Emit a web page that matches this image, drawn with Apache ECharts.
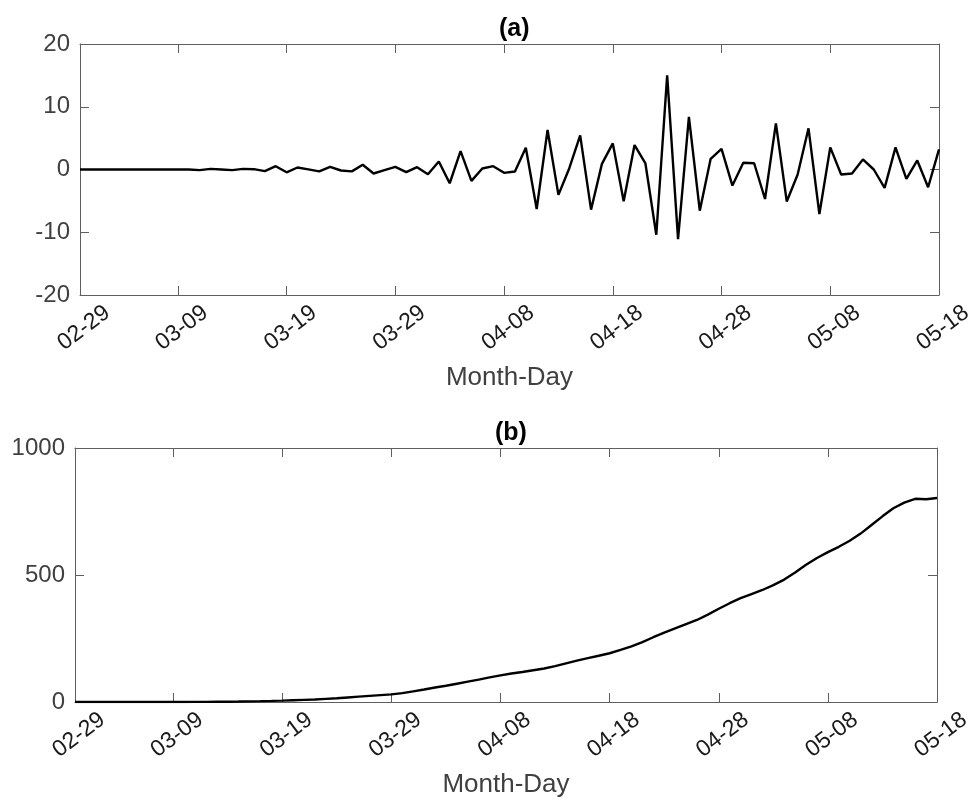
<!DOCTYPE html>
<html>
<head>
<meta charset="utf-8">
<script src="https://cdn.jsdelivr.net/npm/echarts@6/dist/echarts.min.js"></script>
<style>html,body{margin:0;padding:0;background:#fff}#c{width:980px;height:803px}</style>
</head>
<body>
<div id="c"></div>
<script>
// 80 days: 2020-02-29 .. 2020-05-18
var categories = ["02-29",
 "03-01","03-02","03-03","03-04","03-05","03-06","03-07","03-08","03-09","03-10",
 "03-11","03-12","03-13","03-14","03-15","03-16","03-17","03-18","03-19","03-20",
 "03-21","03-22","03-23","03-24","03-25","03-26","03-27","03-28","03-29","03-30","03-31",
 "04-01","04-02","04-03","04-04","04-05","04-06","04-07","04-08","04-09","04-10",
 "04-11","04-12","04-13","04-14","04-15","04-16","04-17","04-18","04-19","04-20",
 "04-21","04-22","04-23","04-24","04-25","04-26","04-27","04-28","04-29","04-30",
 "05-01","05-02","05-03","05-04","05-05","05-06","05-07","05-08","05-09","05-10",
 "05-11","05-12","05-13","05-14","05-15","05-16","05-17","05-18"];
var tickLabels = ["02-29","03-09","03-19","03-29","04-08","04-18","04-28","05-08","05-18"];

// panel (a)
var seriesA = [0,0,0,0,0,0,0,0,0,0,
 0,-0.1,0.1,0,-0.1,0.1,0.05,-0.27,0.53,-0.45,
 0.32,0.03,-0.3,0.43,-0.16,-0.3,0.75,-0.64,-0.1,0.43,
 -0.43,0.37,-0.75,1.28,-2.19,2.93,-1.81,0.16,0.53,-0.53,
 -0.32,3.47,-6.3,6.3,-4.05,0.2,5.44,-6.4,0.9,4.16,
 -5.07,3.89,0.96,-10.4,15.0,-11.1,8.37,-6.56,1.7,3.3,
 -2.56,1.07,1.0,-4.7,7.36,-5.1,-0.8,6.56,-7.1,3.52,
 -0.8,-0.64,1.6,0,-2.93,3.52,-1.5,1.44,-2.83,3.2];

// panel (b)
var seriesB = [0,0,0,0,0,0,0,0,0,0,
 0,0.3,0.5,0.8,1.2,1.8,2.5,3.3,4.3,5.5,
 7,8.5,10,12.5,15,18,21,24,27,30,
 35,42,49,57,64,72,80,88,97,105,
 112,118,125,132,141,152,163,173,182,192,
 205,219,236,255,273,290,307,323,344,367,
 389,409,425,441,460,482,510,540,567,590,
 611,635,663,697,731,763,785,800,798,803];

var FONT = '"Liberation Sans", Arial, Helvetica, sans-serif';
var AX = '#5e5e5e';
var TXT = '#404040';
function isTick(idx) { return tickLabels.indexOf(categories[idx]) >= 0; }

function xBottom(gi) {
  return {
    gridIndex: gi, type: 'category', data: categories, boundaryGap: false, position: 'bottom',
    axisLine: {show: true, onZero: false, lineStyle: {color: AX, width: 1}},
    axisTick: {show: true, inside: true, length: 9, interval: function (i) { return isTick(i); }, lineStyle: {color: AX}},
    axisLabel: {show: true, interval: function (i) { return isTick(i); }, rotate: 37, align: 'center', verticalAlign: 'middle',
      margin: 36, fontSize: 23, color: '#1a1a1a', fontFamily: FONT, padding: [0, 0, 0, 10]},
    splitLine: {show: false},
    name: 'Month-Day', nameLocation: 'middle', nameGap: 70,
    nameTextStyle: {fontSize: 26, color: TXT, fontFamily: FONT}
  };
}
function xTop(gi) {
  return {
    gridIndex: gi, type: 'category', data: categories, boundaryGap: false, position: 'top',
    axisLine: {show: true, onZero: false, lineStyle: {color: AX, width: 1}},
    axisTick: {show: true, inside: true, length: 9, interval: function (i) { return isTick(i); }, lineStyle: {color: AX}},
    axisLabel: {show: false}, splitLine: {show: false}
  };
}
function yLeft(gi, mn, mx, iv) {
  return {
    gridIndex: gi, type: 'value', min: mn, max: mx, interval: iv, position: 'left',
    axisLine: {show: true, onZero: false, lineStyle: {color: AX, width: 1}},
    axisTick: {show: true, inside: true, length: 9, lineStyle: {color: AX}},
    axisLabel: {show: true, margin: 10, fontSize: 24, color: TXT, fontFamily: FONT,
      formatter: function (v) { return String(v); }},
    splitLine: {show: false}
  };
}
function yRight(gi, mn, mx, iv) {
  return {
    gridIndex: gi, type: 'value', min: mn, max: mx, interval: iv, position: 'right',
    axisLine: {show: true, onZero: false, lineStyle: {color: AX, width: 1}},
    axisTick: {show: true, inside: true, length: 9, lineStyle: {color: AX}},
    axisLabel: {show: false}, splitLine: {show: false}
  };
}

var chart = echarts.init(document.getElementById('c'), null, {renderer: 'canvas'});
chart.setOption({
  backgroundColor: '#ffffff',
  animation: false,
  title: [
    {text: '(a)', left: 494, top: 12, textStyle: {fontSize: 25, fontWeight: 'bold', color: '#000', fontFamily: FONT}},
    {text: '(b)', left: 490, top: 416, textStyle: {fontSize: 25, fontWeight: 'bold', color: '#000', fontFamily: FONT}}
  ],
  grid: [
    {left: 80, right: 41, top: 44, height: 251, containLabel: false},
    {left: 75, right: 43, top: 448, height: 254, containLabel: false}
  ],
  xAxis: [xBottom(0), xTop(0), xBottom(1), xTop(1)],
  yAxis: [yLeft(0, -20, 20, 10), yRight(0, -20, 20, 10), yLeft(1, 0, 1000, 500), yRight(1, 0, 1000, 500)],
  series: [
    {type: 'line', xAxisIndex: 0, yAxisIndex: 0, data: seriesA, showSymbol: false, symbol: 'none',
      lineStyle: {color: '#000', width: 2.4}, z: 3},
    {type: 'line', xAxisIndex: 2, yAxisIndex: 2, data: seriesB, showSymbol: false, symbol: 'none',
      lineStyle: {color: '#000', width: 2.4}, z: 3}
  ]
});
</script>
</body>
</html>
